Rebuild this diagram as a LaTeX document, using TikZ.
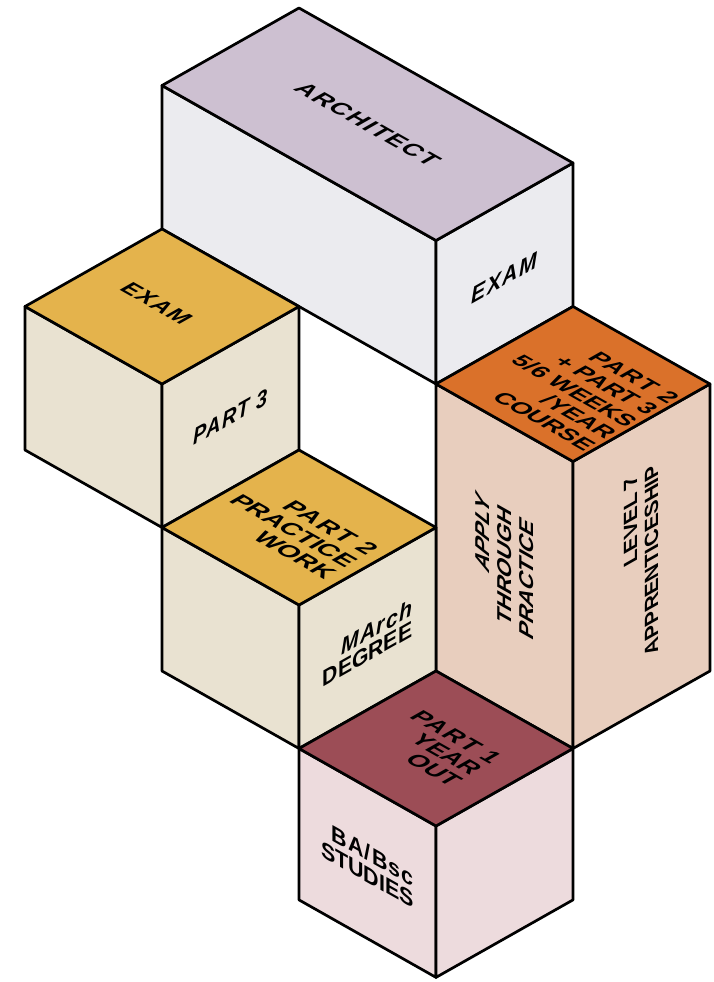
\documentclass[tikz,border=0pt]{standalone}
\usepackage{fontspec}
\setmainfont{Liberation Sans}
\newfontfamily\spaced[LetterSpace=6]{Liberation Sans}
\definecolor{archtop}{RGB}{205,192,209}
\definecolor{archside}{RGB}{235,235,239}
\definecolor{yeltop}{RGB}{228,179,76}
\definecolor{beige}{RGB}{233,226,209}
\definecolor{orgtop}{RGB}{218,113,42}
\definecolor{orgside}{RGB}{232,206,190}
\definecolor{martop}{RGB}{156,77,86}
\definecolor{pinkside}{RGB}{237,219,221}
% #1 i0, #2 j0, #3 k0, #4 i1, #5 j1, #6 k1, #7 top colour, #8 side colour
\newcommand{\isobox}[8]{%
  \filldraw[fill=#8] (#1,#2,#3)--(#4,#2,#3)--(#4,#2,#6)--(#1,#2,#6)--cycle;
  \filldraw[fill=#8] (#4,#2,#3)--(#4,#5,#3)--(#4,#5,#6)--(#4,#2,#6)--cycle;
  \filldraw[fill=#7] (#1,#2,#6)--(#4,#2,#6)--(#4,#5,#6)--(#1,#5,#6)--cycle;}
\begin{document}
\begin{tikzpicture}[x={(137pt,-77.5pt)},y={(137pt,77.5pt)},z={(0pt,143.5pt)},
  line join=round,line width=2.7pt,
  topf/.style={cm={0.8704,-0.4924,0.8704,0.4924,(0,0)}},
  rightf/.style={cm={0.8704,0.4924,0,1,(0,0)}},
  leftf/.style={cm={0.8704,-0.4924,0,1,(0,0)}},
  leftup/.style={cm={0,1,-0.8704,0.4924,(0,0)}},
  rightup/.style={cm={0,1,-0.8704,-0.4924,(0,0)}},
  lbl/.style={transform shape,inner sep=0pt,align=right,font=\fontsize{23}{23}\selectfont\bfseries}]
\useasboundingbox (-299pt,892pt) rectangle (414pt,-90pt);
% boxes
\isobox{-2}{1}{3}{0}{2}{4}{archtop}{archside}
\isobox{-2}{0}{2}{-1}{1}{3}{yeltop}{beige}
\isobox{0}{1}{1}{1}{2}{3}{orgtop}{orgside}
\isobox{-1}{0}{1}{0}{1}{2}{yeltop}{beige}
\isobox{0}{0}{-0.055}{1}{1}{1}{martop}{pinkside}
% labels
\begin{scope}[shift={(-1,1.5,4)},topf,xscale=1.09]
  \node[lbl] (tArch) {\spaced ARCHITECT};
\end{scope}
\begin{scope}[shift={(0,1.5,3.47)},rightf,xscale=1.06]
  \node[lbl] (tExamR) {\spaced\itshape EXAM};
\end{scope}
\begin{scope}[shift={(-1.54,0.5,3)},topf,xscale=1.02]
  \node[lbl] (tExamY) {\spaced EXAM};
\end{scope}
\begin{scope}[shift={(-1,0.5,2.5)},rightf,xscale=1.0]
  \node[lbl] (tPart3) {\spaced\itshape PART 3};
\end{scope}
\begin{scope}[shift={(-0.5,0.46,2)},topf,xscale=1.15]
  \node[lbl,font=\fontsize{23}{24}\selectfont\bfseries] (tPractice) {\spaced PART 2\\PRACTICE\\WORK};
\end{scope}
\begin{scope}[shift={(0,0.5,1.465)},rightf,xscale=1.06]
  \node[lbl,font=\fontsize{23}{21}\selectfont\bfseries] (tMarch) {\spaced\itshape MArch\\DEGREE};
\end{scope}
\begin{scope}[shift={(0.55,1.46,3)},topf,xscale=1.14]
  \node[lbl,font=\fontsize{22}{24}\selectfont\bfseries] (tCourse) {\spaced PART 2\\+ PART 3\\5/6 WEEKS\\/YEAR\\COURSE};
\end{scope}
\begin{scope}[shift={(0.5,1,2)},leftup,xscale=1.0]
  \node[lbl,font=\fontsize{23}{25}\selectfont\bfseries] (tApply) {\itshape APPLY\\THROUGH\\PRACTICE};
\end{scope}
\begin{scope}[shift={(1,1.5,2)},rightup,xscale=0.98]
  \node[lbl,font=\fontsize{22}{24}\selectfont\bfseries] (tLevel) {LEVEL 7\\APPRENTICESHIP};
\end{scope}
\begin{scope}[shift={(0.5,0.5,1)},topf,xscale=1.1]
  \node[lbl] (tYear) {\spaced PART 1\\YEAR\\OUT};
\end{scope}
\begin{scope}[shift={(0.5,0,0.47)},leftf,xscale=1.07]
  \node[lbl,font=\fontsize{23}{22}\selectfont\bfseries] (tBa) {\spaced BA/Bsc\\STUDIES};
\end{scope}
\end{tikzpicture}
\end{document}
